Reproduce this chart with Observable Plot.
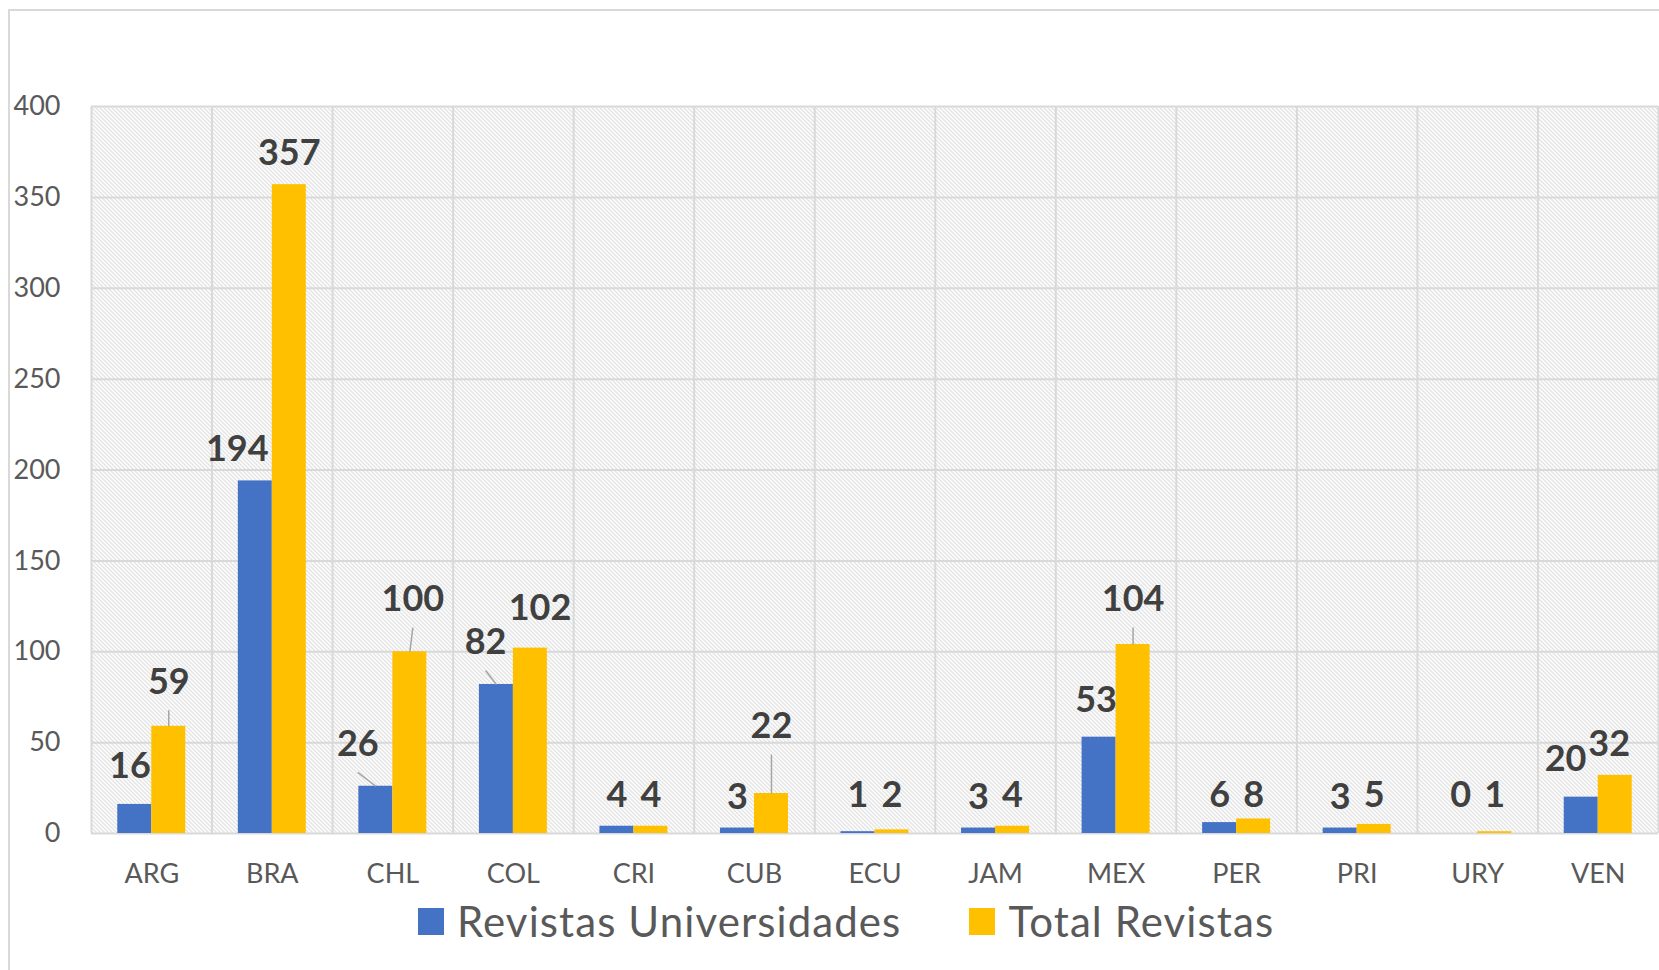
<!DOCTYPE html>
<html>
<head>
<meta charset="utf-8">
<script src="https://cdn.jsdelivr.net/npm/d3@7"></script>
<script src="https://cdn.jsdelivr.net/npm/@observablehq/plot@0.6"></script>
<style>
  html, body { margin: 0; padding: 0; background: #fff; overflow: hidden; }
  body { width: 1659px; height: 970px; position: relative; font-family: "Lato", sans-serif; }
  #border { position: absolute; left: 8px; top: 9px; width: 1720px; height: 1020px;
            border-left: 2px solid #d9d9d9; border-top: 2px solid #d9d9d9; box-sizing: border-box; }
  #chart { position: absolute; left: 0; top: 0; }
  #legend { position: absolute; left: 0; top: 896px; height: 50px; display: flex; align-items: center;
            padding-left: 418px; color: #595959; font-size: 42px; letter-spacing: 1.1px; }
  .item { display: flex; align-items: center; }
  .sw { width: 26px; height: 27px; margin-right: 13px; }
</style>
</head>
<body>
<div id="border"></div>
<div id="chart"></div>
<div id="legend"></div>
<script>
// ---- data ----
const countries = ["ARG","BRA","CHL","COL","CRI","CUB","ECU","JAM","MEX","PER","PRI","URY","VEN"];
const revistasUniversidades = [16, 194, 26, 82, 4, 3, 1, 3, 53, 6, 3, 0, 20];
const totalRevistas = [59, 357, 100, 102, 4, 22, 2, 4, 104, 8, 5, 1, 32];
const seriesNames = ["Revistas Universidades", "Total Revistas"];
const yTicks = [0, 50, 100, 150, 200, 250, 300, 350, 400];

// ---- styling / label placement (not data) ----
const seriesColors = ["#4472C4", "#FFC000"];
const barFrac = 0.282; // width of each bar as a fraction of a category
// label nudges: horizontal in category units, vertical lift in value units
const uniNudgeX = [-0.04, -0.15, -0.15, -0.09, 0, 0, 0, 0, -0.025, 0, 0, 0, -0.13];
const uniLift   = [3.9, 0, 6, 6, 0, 0, 2.8, 0, 3.3, -2.2, 0, 3.9, 3.9];
const uniLeader = [false, false, true, true, false, false, false, false, false, false, false, false, false];
const totNudgeX = [0, 0, 0.025, 0.08, 0, 0, 0, 0, 0, 0, 0, 0, -0.05];
const totLift   = [7.2, 0, 11.6, 5, 0, 19.8, 1.7, 0, 7.7, -4.4, -1, 2.8, 0];
const totLeader = [true, false, true, false, false, true, false, false, true, false, false, false, false];

const rows = [];
countries.forEach((c, i) => {
  [revistasUniversidades, totalRevistas].forEach((vals, s) => {
    const cx = i + 0.5 + (s === 0 ? -barFrac / 2 : barFrac / 2);
    const nx = s === 0 ? uniNudgeX[i] : totNudgeX[i];
    const lift = s === 0 ? uniLift[i] : totLift[i];
    rows.push({
      country: c, series: seriesNames[s], value: vals[i],
      x1: s === 0 ? i + 0.5 - barFrac : i + 0.5,
      x2: s === 0 ? i + 0.5 : i + 0.5 + barFrac,
      cx, lx: cx + nx, ly: vals[i] + lift,
      leader: s === 0 ? uniLeader[i] : totLeader[i]
    });
  });
});

const hatchDefs = () => {
  const defs = d3.create("svg:defs");
  const p = defs.append("pattern").attr("id", "hatch").attr("width", 4).attr("height", 4)
    .attr("patternUnits", "userSpaceOnUse");
  p.append("rect").attr("width", 4).attr("height", 4).attr("fill", "#ffffff");
  p.append("path").attr("d", "M0,0L4,4M-1,3L1,5M3,-1L5,1")
    .attr("stroke", "#c8c8c8").attr("stroke-width", 1);
  return defs.node();
};

const chart = Plot.plot({
  width: 1659,
  height: 890,
  marginLeft: 91,
  marginRight: 1,
  marginTop: 106,
  marginBottom: 57,
  style: { fontFamily: "Lato", background: "transparent", overflow: "visible" },
  x: { domain: [0, countries.length] },
  y: { domain: [0, 400] },
  color: { domain: seriesNames, range: seriesColors },
  marks: [
    hatchDefs,
    Plot.frame({ fill: "url(#hatch)", stroke: null }),
    Plot.gridY(yTicks, { stroke: "#d9d9d9", strokeOpacity: 1, strokeWidth: 2 }),
    Plot.gridX(d3.range(countries.length + 1), { stroke: "#d9d9d9", strokeOpacity: 1, strokeWidth: 2 }),
    Plot.rectY(rows, { x1: "x1", x2: "x2", y: "value", fill: "series" }),
    Plot.link(rows.filter(d => d.leader), {
      x1: "cx", y1: "value", x2: "lx", y2: d => d.ly + 1.65,
      stroke: "#a6a6a6", strokeWidth: 1.5
    }),
    Plot.text(rows, {
      x: "lx", y: "ly", text: d => String(d.value), dy: -31,
      fontSize: 36, fontWeight: 700, fill: "#404040"
    }),
    Plot.axisY(yTicks, {
      tickSize: 0, tickPadding: 31, fontSize: 27, fill: "#595959", label: null
    }),
    Plot.axisX(d3.range(countries.length).map(i => i + 0.5), {
      tickSize: 0, tickPadding: 30, fontSize: 27, fill: "#595959", label: null,
      tickFormat: d => countries[Math.floor(d)]
    })
  ]
});
document.getElementById("chart").appendChild(chart);

const legend = document.getElementById("legend");
seriesNames.forEach((name, s) => {
  const item = document.createElement("div");
  item.className = "item";
  if (s > 0) item.style.marginLeft = "68px";
  const sw = document.createElement("div");
  sw.className = "sw";
  sw.style.background = seriesColors[s];
  const t = document.createElement("span");
  t.textContent = name;
  item.appendChild(sw);
  item.appendChild(t);
  legend.appendChild(item);
});
</script>
</body>
</html>
